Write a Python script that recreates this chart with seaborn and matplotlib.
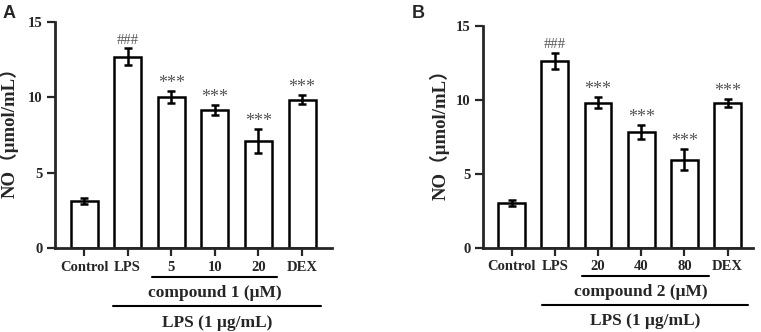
import numpy as np
import seaborn as sns
import matplotlib.pyplot as plt

groups_a = ['Control', 'LPS', '5', '10', '20', 'DEX']
no_a = [3.1, 12.7, 10.05, 9.15, 7.1, 9.85]
err_a = [0.2, 0.55, 0.4, 0.35, 0.8, 0.3]
marks_a = ['', '###', '***', '***', '***', '***']

groups_b = ['Control', 'LPS', '20', '40', '80', 'DEX']
no_b = [3.05, 12.65, 9.82, 7.83, 5.95, 9.8]
err_b = [0.2, 0.55, 0.38, 0.48, 0.72, 0.28]
marks_b = ['', '###', '***', '***', '***', '***']

sns.set_style('ticks')
plt.rcParams['font.family'] = ['Liberation Serif', 'Noto Sans CJK SC']
plt.rcParams['font.weight'] = 'bold'

fig = plt.figure(figsize=(7.61, 3.32), dpi=100)
ax1 = fig.add_axes([0.0723, 0.253, 0.3636, 0.6807])
ax2 = fig.add_axes([0.635, 0.254, 0.354, 0.6677])


def panel(ax, groups, vals, errs, marks, xlim, compound, cspan, lspan, labx):
    sns.barplot(x=groups, y=vals, ax=ax, color='white', saturation=1,
                edgecolor='black', linewidth=1.8, width=0.62, errorbar=None)
    x = np.arange(len(groups))
    ax.errorbar(x, vals, yerr=errs, fmt='none', ecolor='black',
                elinewidth=1.8, capsize=3, capthick=1.8)
    for i, (v, e, m) in enumerate(zip(vals, errs, marks)):
        if m:
            fs = 10.5 if m == '###' else 13
            dy = 1 if m == '###' else -1
            ax.annotate(m, (i, v + e), xytext=(0, dy), textcoords='offset points',
                        ha='center', va='bottom', color='#555555', fontsize=fs,
                        fontweight='normal')
    ax.set_ylim(0, 15)
    ax.set_xlim(*xlim)
    ax.set_yticks([0, 5, 10, 15])
    for s in ['top', 'right']:
        ax.spines[s].set_visible(False)
    for s in ['left', 'bottom']:
        ax.spines[s].set_linewidth(2)
    ax.tick_params(axis='both', length=6, width=1.6, pad=3)
    ax.tick_params(axis='x', labelsize=10.5)
    ax.tick_params(axis='y', labelsize=10.5)
    ax.set_ylabel('NO（μmol/mL）', fontsize=13.5, fontweight='bold')
    ax.yaxis.set_label_coords(labx, 0.53)
    ax.set_xlabel('')
    tr = ax.get_xaxis_transform()
    ax.plot(cspan, [-0.13, -0.13], color='black', lw=1.5, transform=tr, clip_on=False)
    ax.text(np.mean([2, 4]), -0.2, compound, transform=tr, ha='center', va='center',
            fontsize=12.5, fontweight='bold')
    ax.plot(lspan, [-0.257, -0.257], color='black', lw=1.5, transform=tr, clip_on=False)
    ax.text(np.mean(lspan), -0.33, 'LPS (1 μg/mL)', transform=tr, ha='center',
            va='center', fontsize=12.5, fontweight='bold')


panel(ax1, groups_a, no_a, err_a, marks_a, (-0.665, 5.68), 'compound 1 (μM)',
      [1.55, 4.42], [0.67, 5.43], -0.13)
panel(ax2, groups_b, no_b, err_b, marks_b, (-0.657, 5.58), 'compound 2 (μM)',
      [1.62, 4.57], [0.71, 5.48], -0.125)

fig.text(0.004, 0.985, 'A', fontsize=13, fontweight='bold', family='Liberation Sans',
         va='top', ha='left')
fig.text(0.541, 0.985, 'B', fontsize=13, fontweight='bold', family='Liberation Sans',
         va='top', ha='left')

fig.savefig('out.png', dpi=100)
